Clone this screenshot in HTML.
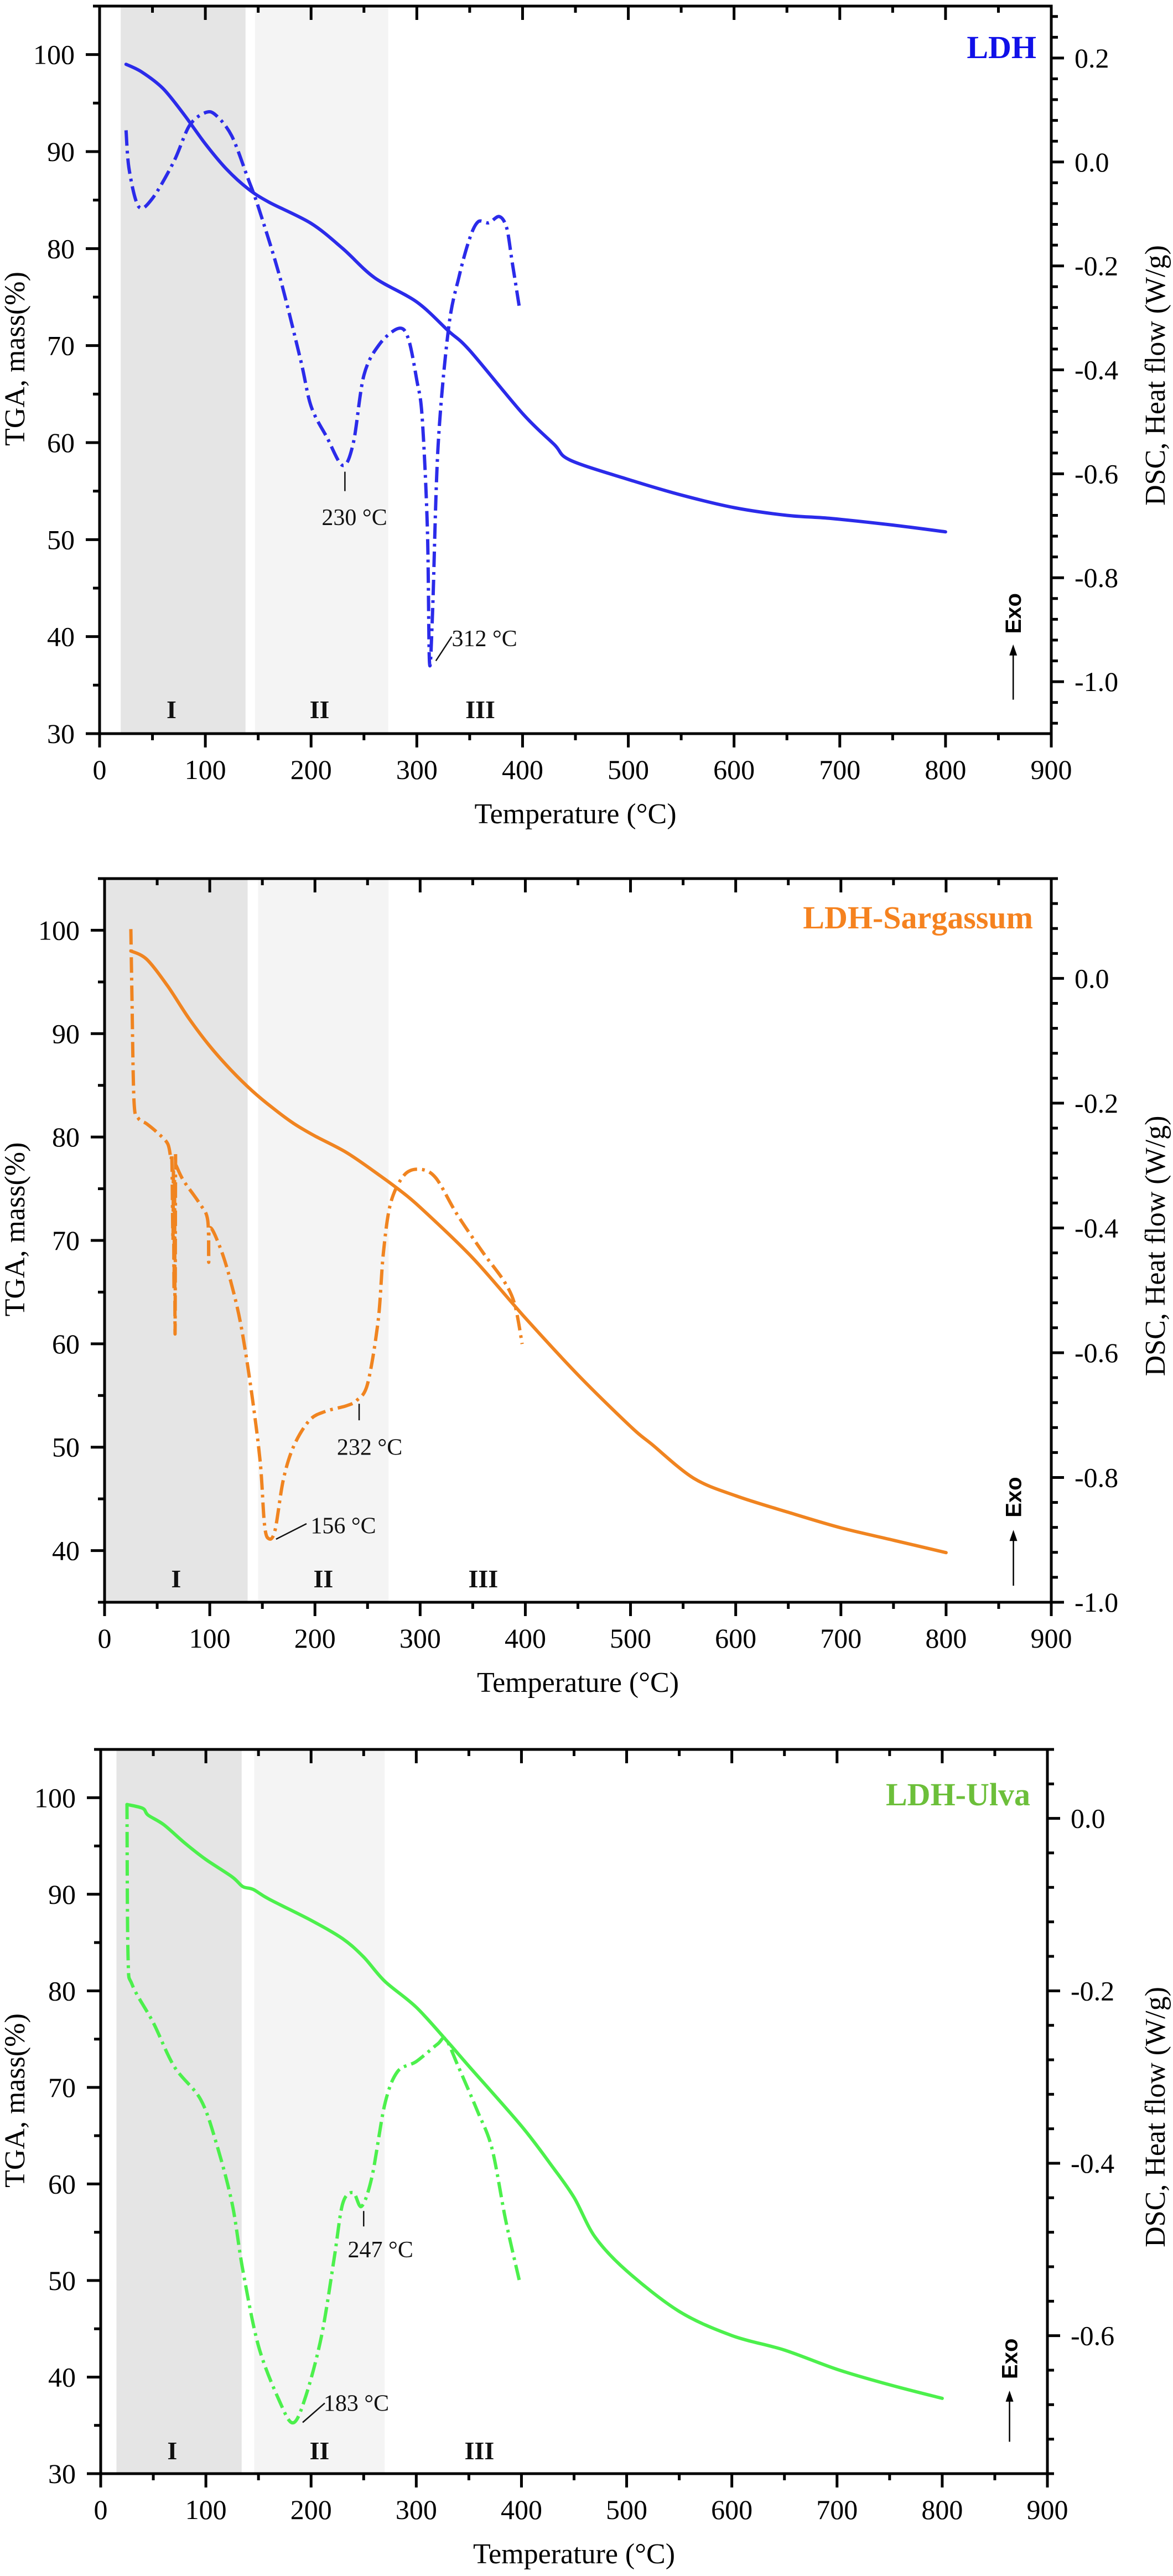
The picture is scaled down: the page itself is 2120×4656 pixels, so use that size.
<!DOCTYPE html>
<html><head><meta charset="utf-8"><style>
html,body{margin:0;padding:0;background:#fff;}
svg{display:block;}
text{font-family:"Liberation Serif",serif;}
</style></head><body>
<svg id="chart" width="2120" height="4656" viewBox="0 0 2120 4656" xmlns="http://www.w3.org/2000/svg"></svg>
<script>
// ---------- data ----------
const xTicks = [0,100,200,300,400,500,600,700,800,900];

const ldhTgaX = [25,40,60,80,100,120,140,160,200,230,260,300,330,350,400,430,445,500,550,600,650,690,750,800];
const ldhTgaY = [99,98.2,96.5,93.8,90.8,88.2,86.2,84.8,82.6,80,77,74.5,71.5,69.5,63,59.8,58.2,56.2,54.6,53.3,52.5,52.2,51.5,50.8];
const ldhDscX = [25,28,37,50,70,85,100,110,125,140,150,170,190,200,215,230,240,250,265,283,292,300,305,310,312,315,320,330,340,350,358,368,378,385,390,397];
const ldhDscY = [0.061,-0.015,-0.086,-0.07,0,0.07,0.095,0.09,0.05,-0.03,-0.086,-0.218,-0.38,-0.47,-0.53,-0.584,-0.54,-0.41,-0.35,-0.32,-0.34,-0.42,-0.49,-0.705,-0.964,-0.86,-0.55,-0.32,-0.22,-0.147,-0.115,-0.117,-0.105,-0.127,-0.19,-0.28];

const sarTgaX = [25,40,60,80,100,120,140,160,180,200,230,260,280,300,350,400,450,500,520,560,600,650,700,750,800];
const sarTgaY = [98,97.2,94.6,91.5,88.8,86.5,84.5,82.8,81.3,80.1,78.5,76.4,74.9,73.2,68.3,62.5,57,52,50.3,47,45.3,43.7,42.2,41,39.8];
const sarDscX = [25,26,28,32,40,50,60,63,64,65,65.5,66,66.5,67,67.5,68,75,90,98,99,100,110,120,130,140,148,152,156,162,170,180,195,210,230,240,250,260,265,272,285,300,315,335,360,380,390,397];
const sarDscY = [0.079,-0.025,-0.197,-0.224,-0.233,-0.247,-0.265,-0.29,-0.29,-0.42,-0.31,-0.5,-0.32,-0.57,-0.30,-0.30,-0.324,-0.36,-0.387,-0.455,-0.40,-0.432,-0.486,-0.559,-0.667,-0.776,-0.875,-0.898,-0.885,-0.803,-0.749,-0.708,-0.694,-0.685,-0.676,-0.65,-0.55,-0.441,-0.36,-0.315,-0.306,-0.32,-0.378,-0.44,-0.486,-0.523,-0.586];

const ulvTgaX = [25,40,45,60,80,100,125,135,145,160,200,230,250,270,300,330,350,400,430,450,470,500,550,600,650,700,750,800];
const ulvTgaY = [99.3,98.9,98.2,97.2,95.3,93.6,91.8,90.8,90.5,89.5,87.3,85.4,83.5,81,78.3,74.7,72.2,66,61.7,58.6,54.5,51,46.8,44.3,42.8,40.8,39.2,37.8];
const ulvDscX = [25,26,30,50,70,95,110,125,135,150,170,183,195,210,222,230,240,248,258,270,282,300,320,328,340,358,372,385,398];
const ulvDscY = [0.017,-0.16,-0.193,-0.237,-0.288,-0.326,-0.377,-0.447,-0.523,-0.612,-0.676,-0.701,-0.67,-0.6,-0.51,-0.447,-0.434,-0.45,-0.415,-0.332,-0.294,-0.282,-0.262,-0.256,-0.288,-0.339,-0.383,-0.466,-0.536];

const NS = "http://www.w3.org/2000/svg";
const svg = document.getElementById('chart');
function mk(tag, attrs, parent){
  const e = document.createElementNS(NS, tag);
  for (const k in attrs) e.setAttribute(k, attrs[k]);
  (parent||svg).appendChild(e);
  return e;
}

const panels = [
  {key:'ldh', L:180, R:1900, T:11, B:1326, yMin:30, yMax:105, yTicks:[30,40,50,60,70,80,90,100],
   rMin:-1.1, rMax:0.3, rLabels:[-1.0,-0.8,-0.6,-0.4,-0.2,0.0,0.2],
   shadeI:[20,138], shadeII:[147,273], color:'#2b2bea', legendColor:'#1010e8', legend:'LDH', legendX:1873, legendY:105,
   tgaX:ldhTgaX, tgaY:ldhTgaY, dscX:ldhDscX, dscY:ldhDscY, regionY:32.5,
   ann:[{t:'230 °C', tx:241, ty:52.3, lx1:232, ly1:57, lx2:232, ly2:55},
        {t:'312 °C', tx:364, ty:39.8, lx1:318, ly1:37.5, lx2:333, ly2:40}],
   exoY:[33.5,39.2,40.3]},
  {key:'sargassum', L:189, R:1900, T:1588, B:2896, yMin:35, yMax:105, yTicks:[40,50,60,70,80,90,100],
   rMin:-1.0, rMax:0.16, rLabels:[-1.0,-0.8,-0.6,-0.4,-0.2,0.0],
   shadeI:[0,136], shadeII:[146,270], color:'#f08420', legendColor:'#f5821f', legend:'LDH-Sargassum', legendX:1867, legendY:1678,
   tgaX:sarTgaX, tgaY:sarTgaY, dscX:sarDscX, dscY:sarDscY, regionY:37.3,
   ann:[{t:'232 °C', tx:252, ty:50, lx1:242, ly1:54.2, lx2:242, ly2:52.6},
        {t:'156 °C', tx:227, ty:42.4, lx1:163, ly1:41.1, lx2:192, ly2:42.6}],
   exoY:[36.6,42,43.2]},
  {key:'ulva', L:182, R:1893, T:3162, B:4471, yMin:30, yMax:105, yTicks:[30,40,50,60,70,80,90,100],
   rMin:-0.76, rMax:0.08, rLabels:[-0.6,-0.4,-0.2,0.0],
   shadeI:[15,134], shadeII:[146,270], color:'#4cf04c', legendColor:'#6cbf3a', legend:'LDH-Ulva', legendX:1862, legendY:3263,
   tgaX:ulvTgaX, tgaY:ulvTgaY, dscX:ulvDscX, dscY:ulvDscY, regionY:32.4,
   ann:[{t:'247 °C', tx:266, ty:53.2, lx1:250, ly1:57.2, lx2:250, ly2:55.6},
        {t:'183 °C', tx:243, ty:37.3, lx1:192, ly1:35.3, lx2:213, ly2:37.3}],
   exoY:[33.3,38.6,39.8]}
];

function smoothPath(pts){
  let d = 'M' + pts[0][0].toFixed(1) + ',' + pts[0][1].toFixed(1);
  for (let i=0;i<pts.length-1;i++){
    const p0 = pts[i-1]||pts[i], p1 = pts[i], p2 = pts[i+1], p3 = pts[i+2]||p2;
    const t = 0.16;
    const c1x = p1[0]+(p2[0]-p0[0])*t, c1y = p1[1]+(p2[1]-p0[1])*t;
    const c2x = p2[0]-(p3[0]-p1[0])*t, c2y = p2[1]-(p3[1]-p1[1])*t;
    d += ' C'+c1x.toFixed(1)+','+c1y.toFixed(1)+' '+c2x.toFixed(1)+','+c2y.toFixed(1)+' '+p2[0].toFixed(1)+','+p2[1].toFixed(1);
  }
  return d;
}

panels.forEach(p => {
  const g = mk('g', {});
  
  
  const X = v => p.L + (v/900)*(p.R-p.L);
  const Y = v => p.B - (v-p.yMin)/(p.yMax-p.yMin)*(p.B-p.T);
  const YR = v => p.B - (v-p.rMin)/(p.rMax-p.rMin)*(p.B-p.T);

  const s1 = mk('rect', {x:X(p.shadeI[0]), y:p.T, width:X(p.shadeI[1])-X(p.shadeI[0]), height:p.B-p.T, fill:'#e5e5e5'}, g);
  
  
  const s2 = mk('rect', {x:X(p.shadeII[0]), y:p.T, width:X(p.shadeII[1])-X(p.shadeII[0]), height:p.B-p.T, fill:'#f4f4f4'}, g);
  
  

  [['I',68],['II',208],['III',360]].forEach(r => {
    const t = mk('text', {x:X(r[1]), y:Y(p.regionY)+16, 'text-anchor':'middle', 'font-size':46, 'font-weight':'bold', fill:'#111'}, g);
    t.textContent = r[0];
    
    
  });

  const tpts = p.tgaX.map((x,i)=>[X(x), Y(p.tgaY[i])]);
  const tga = mk('path', {d:smoothPath(tpts), fill:'none', stroke:p.color, 'stroke-width':6, 'stroke-linejoin':'round', 'stroke-linecap':'round'}, g);
  
  

  const dpts = p.dscX.map((x,i)=>[X(x), YR(p.dscY[i])]);
  const dsc = mk('path', {d:smoothPath(dpts), fill:'none', stroke:p.color, 'stroke-width':6, 'stroke-dasharray':'28 9 5 9', 'stroke-linejoin':'round'}, g);
  
  

  p.ann.forEach(a => {
    const ln = mk('line', {x1:X(a.lx1), y1:Y(a.ly1), x2:X(a.lx2), y2:Y(a.ly2), stroke:'#111', 'stroke-width':2.5}, g);
    
    
    const t = mk('text', {x:X(a.tx), y:Y(a.ty)+14, 'text-anchor':'middle', 'font-size':42, fill:'#111'}, g);
    t.textContent = a.t;
    
    
  });

  const fr = mk('rect', {x:p.L, y:p.T, width:p.R-p.L, height:p.B-p.T, fill:'none', stroke:'#000', 'stroke-width':5}, g);
  
  

  for (let v=0; v<=900; v+=50){
    const major = v%100===0;
    mk('line', {x1:X(v), y1:p.B, x2:X(v), y2:p.B+(major?25:12), stroke:'#000', 'stroke-width':5}, g);
    mk('line', {x1:X(v), y1:p.T, x2:X(v), y2:p.T+(major?25:12), stroke:'#000', 'stroke-width':5}, g);
  }
  xTicks.forEach(v => {
    const t = mk('text', {x:X(v), y:p.B+82, 'text-anchor':'middle', 'font-size':50, fill:'#000'}, g);
    t.textContent = v;
    
    
  });
  for (let v=p.yMin; v<=p.yMax+0.01; v+=5){
    const major = v%10===0;
    mk('line', {x1:p.L, y1:Y(v), x2:p.L-(major?25:12), y2:Y(v), stroke:'#000', 'stroke-width':5}, g);
  }
  p.yTicks.forEach(v => {
    const t = mk('text', {x:p.L-45, y:Y(v)+17, 'text-anchor':'end', 'font-size':50, fill:'#000'}, g);
    t.textContent = v;
    
    
  });
  for (let k=Math.ceil(p.rMin/0.04-1e-6); k*0.04<=p.rMax+1e-6; k++){
    const v = k*0.04;
    const major = Math.abs(Math.round(v/0.2)*0.2 - v) < 1e-6;
    mk('line', {x1:p.R, y1:YR(v), x2:p.R+(major?23:12), y2:YR(v), stroke:'#000', 'stroke-width':5}, g);
  }
  p.rLabels.forEach(v => {
    const t = mk('text', {x:p.R+42, y:YR(v)+17, 'text-anchor':'start', 'font-size':50, fill:'#000'}, g);
    t.textContent = v.toFixed(1);
    
    
  });

  const xt = mk('text', {x:(p.L+p.R)/2, y:p.B+162, 'text-anchor':'middle', 'font-size':52, fill:'#000'}, g);
  xt.textContent = 'Temperature (°C)';
  
  
  const cy = (p.T+p.B)/2;
  const lt = mk('text', {x:0, y:0, transform:'translate(44,'+(cy-20)+') rotate(-90)', 'text-anchor':'middle', 'font-size':52, fill:'#000'}, g);
  lt.textContent = 'TGA, mass(%)';
  
  
  const rt = mk('text', {x:0, y:0, transform:'translate(2105,'+(cy+10)+') rotate(-90)', 'text-anchor':'middle', 'font-size':52, fill:'#000'}, g);
  rt.textContent = 'DSC, Heat flow (W/g)';
  
  

  const lg = mk('text', {x:p.legendX, y:p.legendY, 'text-anchor':'end', 'font-size':58, 'font-weight':'bold', fill:p.legendColor}, g);
  lg.textContent = p.legend;
  
  

  const ex = X(864);
  const arr = mk('line', {x1:ex, y1:Y(p.exoY[0]), x2:ex, y2:Y(p.exoY[1])+14, stroke:'#000', 'stroke-width':2.5}, g);
  
  
  const ah = mk('polygon', {points:(ex-7)+','+(Y(p.exoY[1])+20)+' '+(ex+7)+','+(Y(p.exoY[1])+20)+' '+ex+','+Y(p.exoY[1]), fill:'#000'}, g);
  
  
  const et = mk('text', {x:0, y:0, transform:'translate('+(ex+14)+','+Y(p.exoY[2])+') rotate(-90)', 'text-anchor':'start', 'font-size':40, 'font-weight':'bold', fill:'#000', style:'font-family:"Liberation Sans",sans-serif'}, g);
  et.textContent = 'Exo';
  
  
});
</script>
</body></html>
